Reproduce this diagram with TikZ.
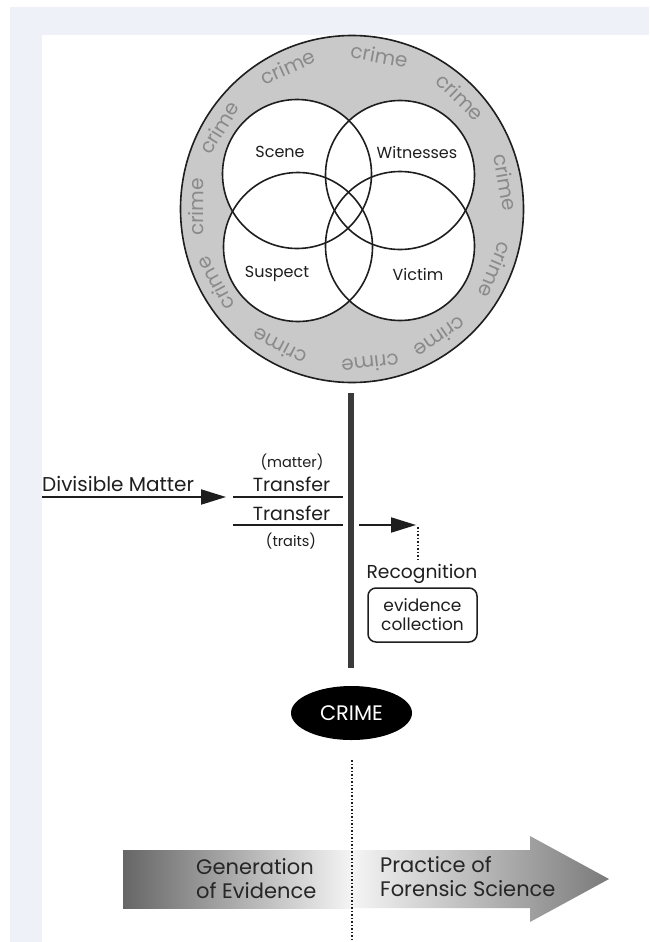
\documentclass[tikz,border=0pt]{standalone}
\usepackage{fontspec}
\setmainfont{Poppins}
\usetikzlibrary{arrows.meta,shapes.geometric,calc}
\definecolor{framebg}{HTML}{EEF2F8}
\definecolor{ringgray}{HTML}{C9C9C9}
\definecolor{ringtext}{HTML}{8A8A8A}
\definecolor{ink}{HTML}{1E1E1E}
\definecolor{bardark}{HTML}{3A3A3A}
\newcommand{\myfs}[1]{\fontsize{#1}{#1}\selectfont}
\begin{document}
\begin{tikzpicture}[x=1pt,y=-1pt,
  vennline/.style={draw=ink, line width=1.6pt},
  vennlbl/.style={text=ink, inner sep=0pt, font=\myfs{16}},
  ringlbl/.style={text=ringtext, inner sep=0pt, font=\myfs{20}},
  txt/.style={text=ink, inner sep=0pt},
  arr/.style={draw=ink, line width=2pt, -{Triangle[length=25pt,width=15pt]}},
  tline/.style={draw=ink, line width=2pt},
  barline/.style={draw=bardark, line width=6.5pt},
  dotline/.style={draw=ink, line width=1.5pt, dotted},
  evbox/.style={draw=ink, line width=1.5pt, rounded corners=8pt, minimum width=109pt, minimum height=54pt, inner sep=0pt, align=center, text=ink, font=\fontsize{17}{19}\selectfont},
  crimeell/.style={ellipse, fill=black, minimum width=121pt, minimum height=54pt, inner sep=0pt, text=white, font=\myfs{21}},
  bigtxt/.style={text=black!85, inner sep=0pt, align=left, font=\fontsize{21}{24}\selectfont}
]
\useasboundingbox (0,0) rectangle (649,942);
\fill[white] (0,0) rectangle (649,942);
\fill[framebg] (10,7) rectangle (649,942);
\fill[white] (42,35) rectangle (649,942);

% ---- ring with Venn circles
\coordinate (C) at (352,209);
\fill[ringgray] (C) ellipse[x radius=171.5pt, y radius=173.5pt];
\foreach \p in {(297,174),(400,175),(298,247),(400,246)}
  \fill[white] \p circle[radius=74.5pt];
\foreach \p in {(297,174),(400,175),(298,247),(400,246)}
  \draw[vennline] \p circle[radius=74.5pt];
\draw[vennline] (C) ellipse[x radius=171.5pt, y radius=173.5pt];
\foreach \ang [count=\i] in {79.9,46,9.8,-23,-55.5,-83.3,-117.7,-151.3,179.3,148.5,114.3}{
  \node[ringlbl, rotate=\ang-90] (crime\i) at ($(C)+(\ang:156pt)$) {crime};
}
\node[vennlbl] (scene) at (280,152) {Scene};
\node[vennlbl] (wit) at (417,152) {Witnesses};
\node[vennlbl] (susp) at (277,274) {Suspect};
\node[vennlbl] (vict) at (418,274) {Victim};

% ---- timeline bar
\coordinate (barT) at (351,393);
\coordinate (barB) at (351,668);
\draw[barline] (barT) -- (barB);

% ---- divisible matter
\coordinate (dmA) at (42,497);
\coordinate (dmB) at (226,497);
\draw[arr] (dmA) -- (dmB);
\node[txt, anchor=base west, font=\myfs{20}] (dm) at (42,491) {Divisible Matter};

% ---- transfer
\coordinate (t1a) at (233,497);
\coordinate (t1b) at (343,497);
\coordinate (t2a) at (233,525);
\coordinate (t2b) at (343,525);
\draw[tline] (t1a) -- (t1b);
\draw[tline] (t2a) -- (t2b);
\node[txt, font=\myfs{14.5}] (matter) at (292,462) {(matter)};
\node[txt, anchor=base, font=\myfs{19}] (tr1) at (291.5,491) {Transfer};
\node[txt, anchor=base, font=\myfs{19}] (tr2) at (291.5,520) {Transfer};
\node[txt, font=\myfs{14.5}] (traits) at (291,541) {(traits)};

% ---- recognition
\coordinate (raA) at (359,525);
\coordinate (raB) at (416,525);
\draw[arr] (raA) -- (raB);
\coordinate (dA) at (418,527);
\coordinate (dB) at (418,562);
\draw[dotline] (dA) -- (dB);
\node[txt, anchor=base, font=\myfs{18.7}] (recog) at (422,578) {Recognition};
\node[evbox] (ev) at (422.5,615) {evidence\\collection};

% ---- crime
\node[crimeell] (crime) at (351.5,713) {CRIME};

% ---- bottom arrow
\shade[left color=black!60, right color=black!4] (123,850) rectangle (352,908);
\shade[left color=black!4, right color=black!52]
  (352,850) -- (530,850) -- (530,836) -- (609,879) -- (530,922) -- (530,908) -- (352,908) -- cycle;
\coordinate (ddA) at (352,760);
\coordinate (ddB) at (352,942);
\draw[dotline] (ddA) -- (ddB);
\node[bigtxt, anchor=west] (gen) at (196,879) {Generation\\of Evidence};
\node[bigtxt, anchor=west] (prac) at (380,877) {Practice of\\Forensic Science};
\end{tikzpicture}
\end{document}
